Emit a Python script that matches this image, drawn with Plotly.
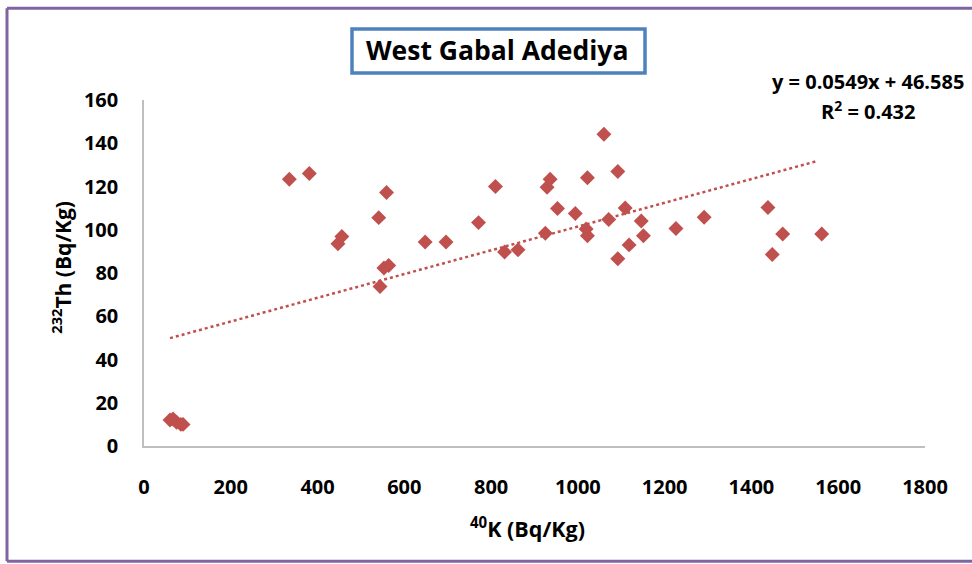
import plotly.graph_objects as go

# 40K (Bq/Kg) and 232Th (Bq/Kg) values
k40 = [60, 67, 75, 85, 90, 335, 381, 447, 456, 541, 544, 553, 559, 564,
       648, 696, 771, 810, 831, 862, 925, 929, 936, 953, 994, 1019, 1022,
       1022, 1060, 1071, 1092, 1092, 1109, 1118, 1146, 1151, 1226, 1291,
       1438, 1448, 1472, 1562]
th232 = [12, 12.5, 11, 10, 10, 123.4, 126, 93.5, 96.9, 105.6, 73.8, 82.3,
         117.2, 83.5, 94.3, 94.3, 103.3, 120, 89.7, 90.7, 98.4, 119.7, 123.4,
         109.8, 107.5, 100.3, 97.2, 124, 144.2, 104.7, 126.9, 86.6, 110.1,
         93, 104, 97.2, 100.6, 105.8, 110.3, 88.6, 98, 98]

slope = 0.0549
intercept = 46.585
r2 = 0.432
trend_x = [min(k40), 1550]
trend_y = [slope * v + intercept for v in trend_x]

x_ticks = [0, 200, 400, 600, 800, 1000, 1200, 1400, 1600, 1800]
y_ticks = [0, 20, 40, 60, 80, 100, 120, 140, 160]

FONT = "Open Sans, Roboto, Arial, sans-serif"
RED = "#C0504D"
PURPLE = "#8064A2"

fig = go.Figure()
fig.add_trace(go.Scatter(
    x=trend_x, y=trend_y, mode="lines",
    line=dict(color=RED, width=2.5, dash="dot"),
    hoverinfo="skip", showlegend=False))
fig.add_trace(go.Scatter(
    x=k40, y=th232, mode="markers",
    marker=dict(symbol="diamond", size=11.5, color=RED),
    showlegend=False))

W, H = 972, 564
L, R, T, B = 144, 47, 100, 117.5
pw, ph = W - L - R, H - T - B


def px(x):
    return (x - L) / pw


def py(y):
    return (H - B - y) / ph


shapes = [
    # purple frame
    dict(type="line", xref="paper", yref="paper", x0=px(7), x1=px(975), y0=py(8), y1=py(8),
         line=dict(color=PURPLE, width=3)),
    dict(type="line", xref="paper", yref="paper", x0=px(7), x1=px(975), y0=py(562), y1=py(562),
         line=dict(color=PURPLE, width=3)),
    dict(type="line", xref="paper", yref="paper", x0=px(7), x1=px(7), y0=py(8), y1=py(562),
         line=dict(color=PURPLE, width=3)),
    # title box
    dict(type="rect", xref="paper", yref="paper", x0=px(352), x1=px(645), y0=py(29), y1=py(73),
         line=dict(color="#4F81BD", width=3.5), fillcolor="white"),
]

annotations = [
    dict(text="<b>West Gabal Adediya</b>", xref="paper", yref="paper", x=px(497), y=py(50),
         showarrow=False, font=dict(family=FONT, size=26.5, color="black"),
         xanchor="center", yanchor="middle"),
    dict(text="<b>y = 0.0549x + 46.585</b>", xref="paper", yref="paper", x=px(868), y=py(81),
         showarrow=False, font=dict(family=FONT, size=20, color="black"),
         xanchor="center", yanchor="middle"),
    dict(text="<b>R<sup>2</sup> = %.3f</b>" % r2, xref="paper", yref="paper", x=px(868), y=py(111),
         showarrow=False, font=dict(family=FONT, size=20, color="black"),
         xanchor="center", yanchor="middle"),
    dict(text="<b><sup>232</sup>Th (Bq/Kg)</b>", xref="paper", yref="paper", x=px(62), y=py(268),
         showarrow=False, textangle=-90, font=dict(family=FONT, size=21, color="black"),
         xanchor="center", yanchor="middle"),
    dict(text="<b><sup>40</sup>K (Bq/Kg)</b>", xref="paper", yref="paper", x=px(527), y=py(528),
         showarrow=False, font=dict(family=FONT, size=21.5, color="black"),
         xanchor="center", yanchor="middle"),
]

fig.update_layout(
    width=W, height=H,
    margin=dict(l=L, r=R, t=T, b=B),
    paper_bgcolor="white", plot_bgcolor="white",
    shapes=shapes, annotations=annotations,
    font=dict(family=FONT, size=20, color="black"),
    xaxis=dict(range=[0, 1800], tickvals=x_ticks, ticktext=["<b>%d</b>" % v for v in x_ticks],
               showgrid=False, zeroline=False, showline=True, linecolor="#BFBFBF", linewidth=1.5,
               ticks="", ticklabelstandoff=22, tickfont=dict(family=FONT, size=20)),
    yaxis=dict(range=[0, 160], tickvals=y_ticks, ticktext=["<b>%d</b>" % v for v in y_ticks],
               showgrid=False, zeroline=False, showline=True, linecolor="#BFBFBF", linewidth=1.5,
               ticks="", ticklabelstandoff=20, tickfont=dict(family=FONT, size=20)),
)

fig.write_html("out.html", config={"displayModeBar": False},
               post_script="document.body.style.margin='0';")
